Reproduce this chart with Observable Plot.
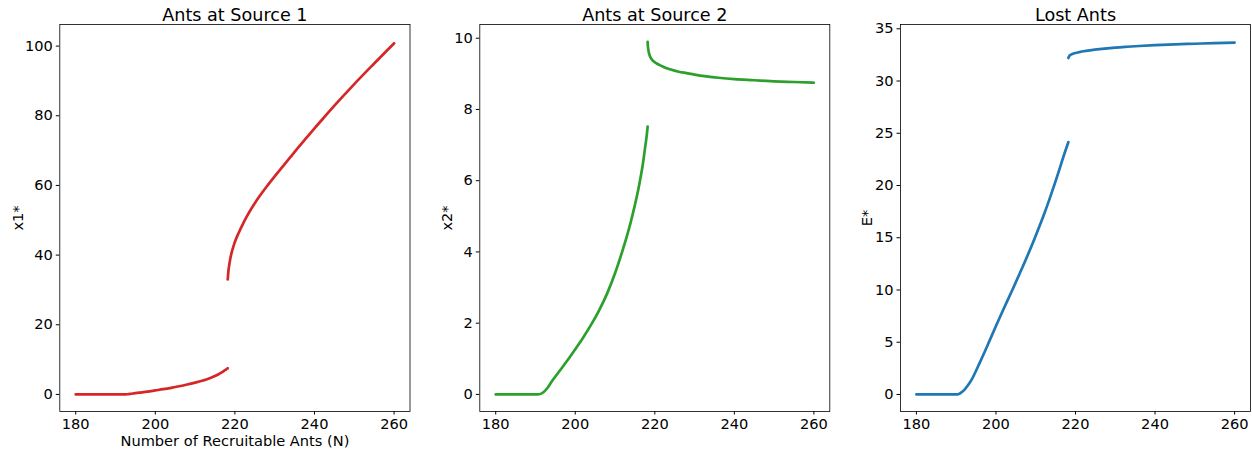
<!DOCTYPE html>
<html><head><meta charset="utf-8">
<script src="https://cdn.jsdelivr.net/npm/d3@7"></script>
<script src="https://cdn.jsdelivr.net/npm/@observablehq/plot@0.6"></script>
<style>
body{margin:0;background:#fff;}
#charts{display:flex;width:1252px;height:449px;}
#charts svg{display:block;flex:none;}
</style></head><body><div id="charts"></div>
<script>
// Shared x ticks
const xTicks = [180, 200, 220, 240, 260];

// Panel 1: Ants at Source 1 (x1*)
const x1LowN = [180,184,188,192,193,194,196,198,200,202,204,206,208,210,212,213,214,215,216,216.5,217,217.5,218,218.2];
const x1Low  = [0,0,0,0,0.05,0.2,0.5,0.8,1.15,1.5,1.9,2.35,2.85,3.4,4.0,4.35,4.78,5.28,5.87,6.2,6.55,6.95,7.35,7.55];
const x1UpN  = [218.2,218.35,218.6,218.9,219.5,220,221,222,223,224,225,226,228,230,232,234,236,238,240,242,245,250,255,260];
const x1Up   = [33,35.2,37.3,39.3,42.0,43.8,46.5,48.9,51.1,53.1,54.9,56.6,59.7,62.6,65.4,68.2,71.0,73.7,76.4,79.0,82.9,89.1,95.0,100.8];

// Panel 2: Ants at Source 2 (x2*)
const x2LowN = [180,184,188,190.7,192,193,194,196,198,200,202,204,206,208,210,212,213,214,215,216,216.5,217,217.5,218,218.2];
const x2Low  = [0,0,0,0,0.06,0.18,0.35,0.65,0.95,1.27,1.6,1.96,2.36,2.83,3.4,4.08,4.45,4.86,5.32,5.84,6.14,6.47,6.88,7.3,7.52];
const x2UpN  = [218.2,218.25,218.35,218.5,218.8,219.2,219.7,220.5,221.5,222.5,224,226,228,230,233,236,240,245,250,255,260];
const x2Up   = [9.9,9.8,9.7,9.6,9.49,9.41,9.35,9.29,9.23,9.18,9.12,9.06,9.02,8.98,8.93,8.89,8.85,8.82,8.79,8.77,8.75];

// Panel 3: Lost Ants (E*)
const eLowN = [180,184,188,190.3,191,192,193,194,196,198,200,202,204,206,208,210,212,214,216,217,218.2];
const eLow  = [0,0,0,0,0.12,0.42,0.9,1.5,3.1,4.8,6.55,8.25,9.9,11.6,13.35,15.2,17.15,19.3,21.6,22.8,24.15];
const eUpN  = [218.2,218.3,218.45,218.7,219.2,220,221,222,224,226,228,230,233,236,240,245,250,255,260];
const eUp   = [32.2,32.3,32.4,32.49,32.58,32.68,32.77,32.85,32.96,33.05,33.13,33.2,33.28,33.35,33.43,33.51,33.57,33.63,33.68];

const zip = (ns, vs) => ns.map((n, i) => ({N: n, v: vs[i]}));

function panel({title, ylabel, xlabel, color, yDomain, yTicks, lower, upper, width, ml, mr, yOff}) {
  return Plot.plot({
    width, height: 449,
    marginLeft: ml, marginRight: mr, marginTop: 24, marginBottom: 38,
    style: {fontFamily: "DejaVu Sans", fontSize: "14.6px", color: "black", background: "white", overflow: "visible"},
    x: {domain: [176, 264]},
    y: {domain: yDomain},
    marks: [
      Plot.line(lower, {x: "N", y: "v", stroke: color, strokeWidth: 2.7, curve: "monotone-x"}),
      Plot.line(upper, {x: "N", y: "v", stroke: color, strokeWidth: 2.7, curve: "monotone-x"}),
      Plot.frame({stroke: "black", strokeWidth: 0.8}),
      Plot.axisX({ticks: xTicks, tickSize: 3.5, tickPadding: 3.5, fontSize: 14.6,
        label: xlabel, labelAnchor: "center", labelArrow: "none", labelOffset: 34}),
      Plot.axisY({ticks: yTicks, tickSize: 3.5, tickPadding: 3.5, fontSize: 14.6,
        label: ylabel, labelAnchor: "center", labelArrow: "none", labelOffset: yOff}),
      Plot.text([title], {text: d => d, frameAnchor: "top", lineAnchor: "bottom", dy: -3.5, fontSize: 17.6})
    ]
  });
}

const root = document.getElementById("charts");
root.append(panel({
  title: "Ants at Source 1", ylabel: "x1*", xlabel: "Number of Recruitable Ants (N)", color: "#d62728",
  yDomain: [-4.9, 106.2], yTicks: [0, 20, 40, 60, 80, 100],
  lower: zip(x1LowN, x1Low), upper: zip(x1UpN, x1Up), width: 417, ml: 59.3, mr: 7.5, yOff: 47
}));
root.append(panel({
  title: "Ants at Source 2", ylabel: "x2*", xlabel: null, color: "#2ca02c",
  yDomain: [-0.48, 10.385], yTicks: [0, 2, 4, 6, 8, 10],
  lower: zip(x2LowN, x2Low), upper: zip(x2UpN, x2Up), width: 417, ml: 62.3, mr: 4.7, yOff: 38.5
}));
root.append(panel({
  title: "Lost Ants", ylabel: "E*", xlabel: null, color: "#1f77b4",
  yDomain: [-1.63, 35.41], yTicks: [0, 5, 10, 15, 20, 25, 30, 35],
  lower: zip(eLowN, eLow), upper: zip(eUpN, eUp), width: 418, ml: 66, mr: 2, yOff: 38.5
}));
</script></body></html>
